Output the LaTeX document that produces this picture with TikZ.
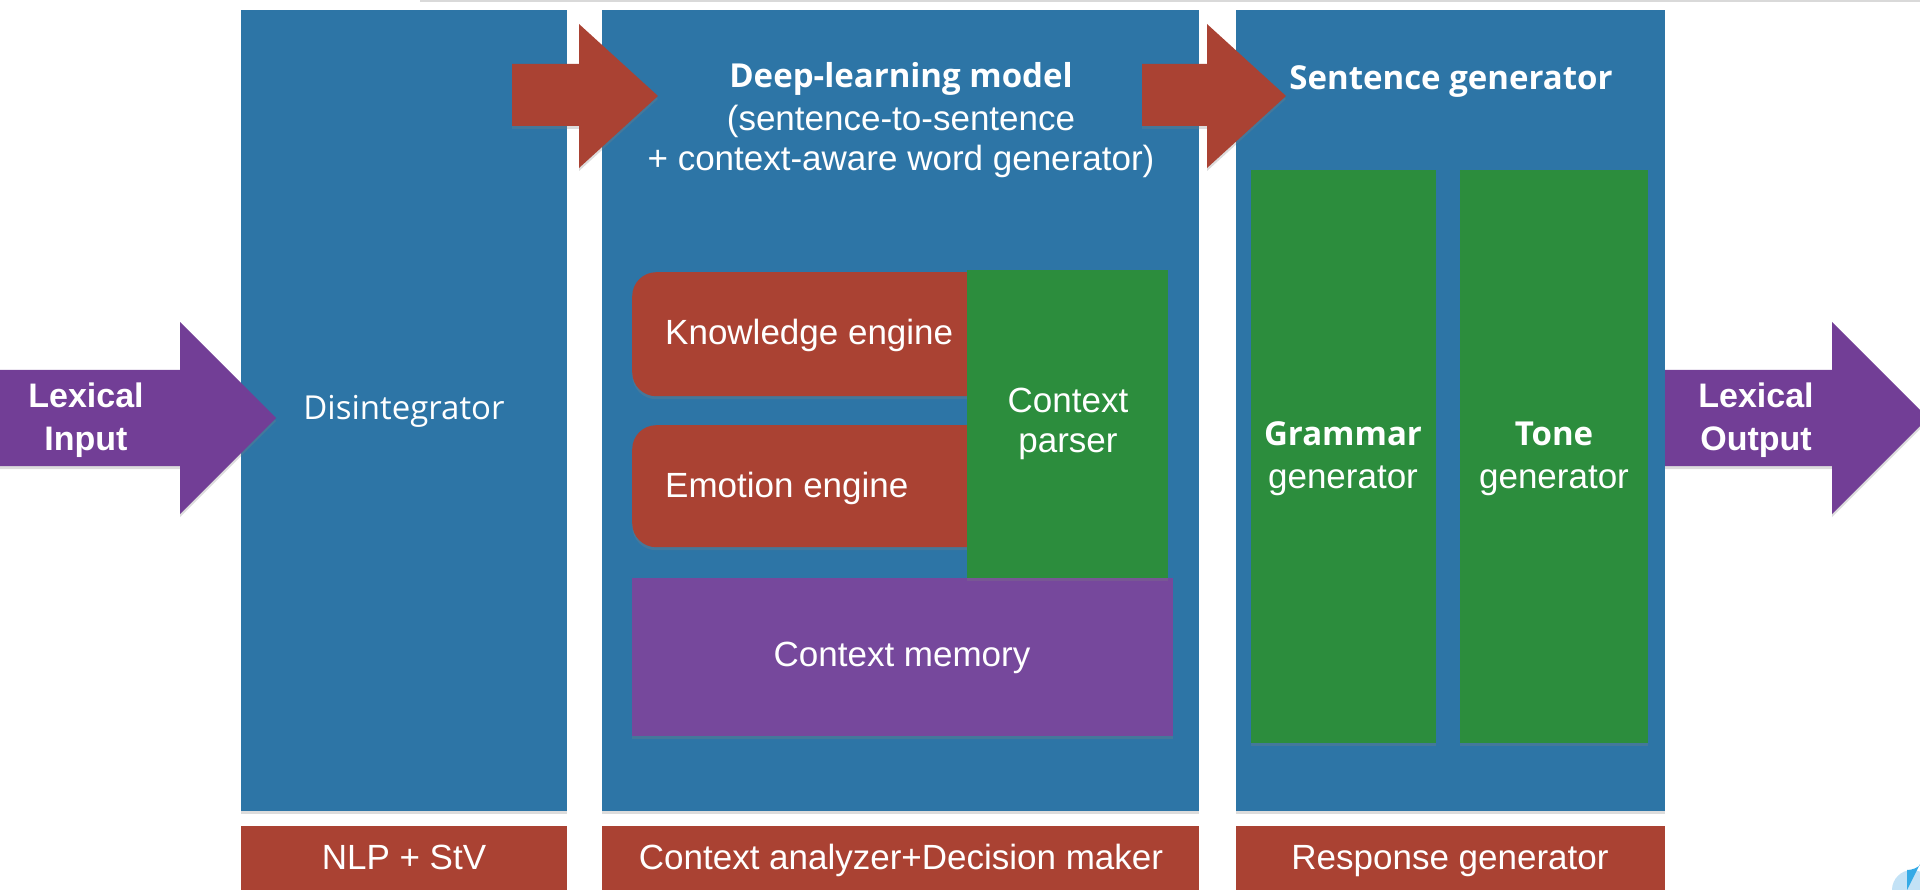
\documentclass[tikz,border=0pt]{standalone}
\usepackage{fontspec}
\setmainfont{Liberation Sans}
\newfontfamily\osans{Open Sans}
\usetikzlibrary{shadows}
\definecolor{cblue}{RGB}{45,117,166}
\definecolor{cred}{RGB}{170,66,51}
\definecolor{cgreen}{RGB}{44,141,61}
\definecolor{cpurple}{RGB}{114,62,150}
\definecolor{cmem}{RGB}{118,72,156}
\definecolor{dotlight}{RGB}{195,226,246}
\definecolor{dotdark}{RGB}{52,170,230}
\tikzset{
  shad/.style={drop shadow={opacity=0.28, shadow xshift=0pt, shadow yshift=-3pt}},
  panel/.style={fill=#1, draw=none, inner sep=0pt, anchor=north west, shad},
  txt/.style={text=white, inner sep=0pt, anchor=base, font=\fontsize{35}{40}\selectfont},
  btxt/.style={txt, font=\osans\bfseries\fontsize{33}{40}\selectfont},
  lbtxt/.style={txt, font=\bfseries\fontsize{34}{40}\selectfont},
}
\begin{document}
\begin{tikzpicture}[x=1pt, y=-1pt]
\useasboundingbox (0,0) rectangle (1920,890);
\clip (0,0) rectangle (1920,890);
% top hairline
\draw[gray!30, line width=2pt] (420,1) -- (1920,1);
% panels
\node[panel=cblue, minimum width=326, minimum height=801] (dis) at (241,10) {};
\node[panel=cblue, minimum width=597, minimum height=801] (ctx) at (602,10) {};
\node[panel=cblue, minimum width=429, minimum height=801] (resp) at (1236,10) {};
% bottom labels
\node[panel=cred, minimum width=326, minimum height=80] (lab1) at (241,826) {};
\node[panel=cred, minimum width=597, minimum height=80] (lab2) at (602,826) {};
\node[panel=cred, minimum width=429, minimum height=80] (lab3) at (1236,826) {};
% inner boxes
\node[panel=cred, rounded corners=24pt, minimum width=360, minimum height=124] (know) at (632,272) {};
\node[panel=cred, rounded corners=24pt, minimum width=360, minimum height=122] (emo) at (632,425) {};
\node[panel=cmem, minimum width=541, minimum height=158] (mem) at (632,578) {};
\node[panel=cgreen, minimum width=201, minimum height=308] (cpar) at (967,270) {};
\node[panel=cgreen, minimum width=185, minimum height=573] (gram) at (1251,170) {};
\node[panel=cgreen, minimum width=188, minimum height=573] (tone) at (1460,170) {};
% purple block arrows
\fill[cpurple, shad] (0,370) -- (180,370) -- (180,322) -- (276,418) -- (180,514) -- (180,466) -- (0,466) -- cycle;
\fill[cpurple, shad] (1665,370) -- (1832,370) -- (1832,322) -- (1928,418) -- (1832,514) -- (1832,466) -- (1665,466) -- cycle;
% red block arrows
\fill[cred, shad] (512,64) -- (579,64) -- (579,24) -- (658,96) -- (579,168) -- (579,126) -- (512,126) -- cycle;
\fill[cred, shad] (1142,64) -- (1207,64) -- (1207,24) -- (1286,96) -- (1207,168) -- (1207,126) -- (1142,126) -- cycle;
% texts
\node[lbtxt] (lin1) at (86,408) {Lexical};
\node[lbtxt] (lin2) at (86,450) {Input};
\node[lbtxt] (lout1) at (1756,408) {Lexical};
\node[lbtxt] (lout2) at (1756,450) {Output};
\node[txt, font=\osans\fontsize{33}{38}\selectfont] (distxt) at (404,420) {Disintegrator};
\node[btxt] (dlm) at (901,88) {Deep-learning model};
\node[txt] (s2s) at (901,131) {(sentence-to-sentence};
\node[txt] (caw) at (901,171) {+ context-aware word generator)};
\node[btxt] (sg) at (1451,90) {Sentence generator};
\node[txt, anchor=base west] (ketxt) at (665,345) {Knowledge engine};
\node[txt, anchor=base west] (eetxt) at (665,497) {Emotion engine};
\node[txt] (cp1) at (1068,413) {Context};
\node[txt] (cp2) at (1068,453) {parser};
\node[txt] (cmtxt) at (902,666) {Context memory};
\node[btxt] (g1) at (1343,446) {Grammar};
\node[txt] (g2) at (1343,488) {generator};
\node[btxt] (t1) at (1554,446) {Tone};
\node[txt] (t2) at (1554,488) {generator};
\node[txt] (b1) at (404,869) {NLP + StV};
\node[txt] (b2) at (901,869) {Context analyzer+Decision maker};
\node[txt] (b3) at (1450,869) {Response generator};
% corner fragment
\fill[dotlight] (1912,890) circle (20);
\fill[dotdark] (1907,890) -- (1907,870) arc[start angle=90, end angle=0, radius=20] -- cycle;
\end{tikzpicture}
\end{document}
